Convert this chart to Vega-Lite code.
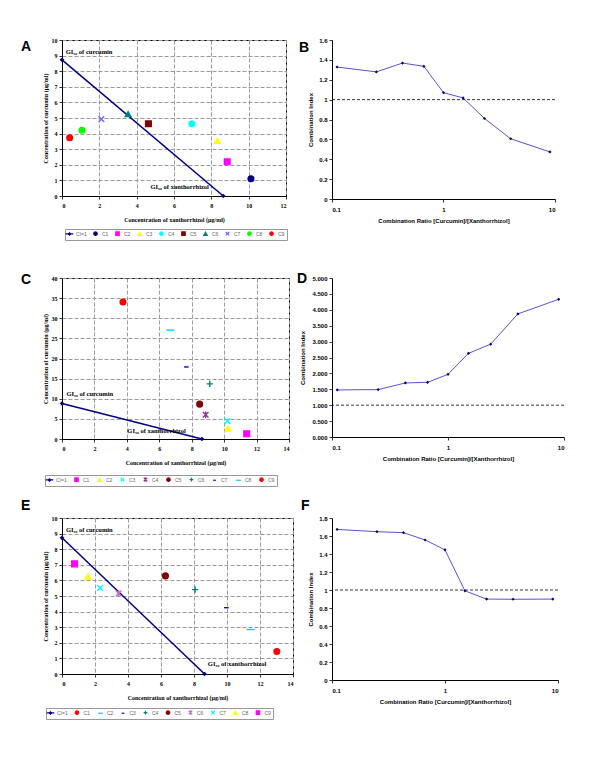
{
  "$schema": "https://vega.github.io/schema/vega-lite/v6.json",
  "padding": {"left": 20, "top": 36, "right": 10, "bottom": 10},
  "background": "white",
  "config": {
    "axis": {"labelFontSize": 6, "titleFontSize": 6, "labelFontWeight": "bold", "titleFontWeight": "bold", "labelColor": "black", "titleColor": "black", "domainColor": "black", "tickColor": "black", "tickSize": 3, "grid": false, "domainWidth": 1, "tickWidth": 0.8, "labelOverlap": false, "tickCount": 40},
    "legend": {"direction": "horizontal", "columns": 10, "orient": "none", "symbolSize": 12, "symbolStrokeWidth": 1.2, "labelFontSize": 5, "labelFont": "Liberation Sans", "labelColor": "#666", "strokeColor": "#999", "fillColor": "white", "padding": 2, "columnPadding": 5, "labelOffset": 4, "title": null},
    "title": {"font": "Liberation Sans", "fontWeight": "bold", "fontSize": 14, "anchor": "start", "frame": "group", "baseline": "top", "offset": 0, "color": "black"}
  },
  "resolve": {
    "scale": {"fill": "independent", "stroke": "independent", "shape": "independent"},
    "legend": {"fill": "independent", "stroke": "independent", "shape": "independent"}
  },
  "datasets": {
    "lineA": [{"x": 0, "y": 8.73}, {"x": 8.64, "y": 0}],
    "ptsA": [
      {"s": "C1", "x": 10.12, "y": 1.11}, {"s": "C2", "x": 8.85, "y": 2.2}, {"s": "C3", "x": 8.32, "y": 3.53},
      {"s": "C4", "x": 6.96, "y": 4.63}, {"s": "C5", "x": 4.63, "y": 4.63}, {"s": "C6", "x": 3.54, "y": 5.25},
      {"s": "C7", "x": 2.11, "y": 4.93}, {"s": "C8", "x": 1.07, "y": 4.22}, {"s": "C9", "x": 0.41, "y": 3.73}
    ],
    "annA": [{"t": "GI₅₀ of curcumin", "x": 0.2, "y": 9.2}, {"t": "GI₅₀ of xanthorrhizol", "x": 4.74, "y": 0.6}],
    "lineC": [{"x": 0, "y": 8.82}, {"x": 8.63, "y": 0}],
    "ptsC": [
      {"s": "C1", "x": 11.39, "y": 1.32}, {"s": "C2", "x": 10.24, "y": 2.56}, {"s": "C3", "x": 10.2, "y": 4.45},
      {"s": "C4", "x": 8.86, "y": 6.02}, {"s": "C5", "x": 8.49, "y": 8.66}, {"s": "C6", "x": 9.11, "y": 13.69},
      {"s": "C7", "x": 7.67, "y": 17.9}, {"s": "C8", "x": 6.68, "y": 27.05}, {"s": "C9", "x": 3.76, "y": 34.06}
    ],
    "annC": [{"t": "GI₅₀ of curcumin", "x": 0.27, "y": 11.1}, {"t": "GI₅₀ of xanthorrhizol", "x": 4.03, "y": 2.06}],
    "lineE": [{"x": 0, "y": 8.73}, {"x": 8.64, "y": 0}],
    "ptsE": [
      {"s": "C1", "x": 13.02, "y": 1.44}, {"s": "C2", "x": 11.43, "y": 2.85}, {"s": "C3", "x": 9.96, "y": 4.25},
      {"s": "C4", "x": 8.07, "y": 5.41}, {"s": "C5", "x": 6.27, "y": 6.29}, {"s": "C6", "x": 3.43, "y": 5.17},
      {"s": "C7", "x": 2.31, "y": 5.52}, {"s": "C8", "x": 1.57, "y": 6.24}, {"s": "C9", "x": 0.76, "y": 7.06}
    ],
    "annE": [{"t": "GI₅₀ of curcumin", "x": 0.24, "y": 9.2}, {"t": "GI₅₀ of xanthorrhizol", "x": 8.84, "y": 0.64}],
    "ciB": [
      {"r": 0.111, "ci": 1.328}, {"r": 0.25, "ci": 1.279}, {"r": 0.429, "ci": 1.368}, {"r": 0.667, "ci": 1.335},
      {"r": 1, "ci": 1.07}, {"r": 1.5, "ci": 1.017}, {"r": 2.333, "ci": 0.81}, {"r": 4, "ci": 0.606}, {"r": 9, "ci": 0.474}
    ],
    "ciD": [
      {"r": 0.111, "ci": 1.48}, {"r": 0.25, "ci": 1.49}, {"r": 0.429, "ci": 1.7}, {"r": 0.667, "ci": 1.72},
      {"r": 1, "ci": 1.97}, {"r": 1.5, "ci": 2.63}, {"r": 2.333, "ci": 2.92}, {"r": 4, "ci": 3.87}, {"r": 9, "ci": 4.33}
    ],
    "ciF": [
      {"r": 0.111, "ci": 1.673}, {"r": 0.25, "ci": 1.648}, {"r": 0.429, "ci": 1.637}, {"r": 0.667, "ci": 1.556},
      {"r": 1, "ci": 1.446}, {"r": 1.5, "ci": 0.991}, {"r": 2.333, "ci": 0.899}, {"r": 4, "ci": 0.897}, {"r": 9, "ci": 0.899}
    ],
    "ref": [{"v": 1}]
  },
  "bounds": "flush",
  "columns": 2,
  "spacing": {"row": 79, "column": 39},
  "concat": [
    {
      "width": 224, "height": 156,
      "view": {"stroke": "black", "strokeWidth": 1},
      "title": {"text": "A", "dx": -41, "dy": 21},
      "layer": [
        {
          "data": {"name": "lineA"},
          "mark": {"type": "line", "color": "#000080", "strokeWidth": 1.5, "point": {"filled": true, "shape": "diamond", "size": 22, "color": "#000080"}},
          "encoding": {
            "x": {"field": "x", "type": "quantitative", "scale": {"domain": [0, 12], "nice": false}, "axis": {"title": "Concentration of xanthorrhizol (µg/ml)", "values": [0, 2, 4, 6, 8, 10, 12], "format": "~g", "grid": true, "gridDash": [4, 2], "gridColor": "#999", "labelFont": "Liberation Serif", "titleFont": "Liberation Serif", "labelPadding": 3, "titlePadding": 8}},
            "y": {"field": "y", "type": "quantitative", "scale": {"domain": [0, 10], "nice": false}, "axis": {"title": "Concentration of curcumin (µg/ml)", "values": [0, 1, 2, 3, 4, 5, 6, 7, 8, 9, 10], "format": "~g", "grid": true, "gridDash": [4, 2], "gridColor": "#999", "labelFont": "Liberation Serif", "titleFont": "Liberation Serif", "labelPadding": 2, "titlePadding": 3}}
          }
        },
        {
          "data": {"name": "ptsA"},
          "mark": {"type": "point", "filled": true, "size": 32, "strokeWidth": 1.4, "opacity": 1},
          "encoding": {
            "x": {"field": "x", "type": "quantitative"},
            "y": {"field": "y", "type": "quantitative"},
            "fill": {"field": "s", "type": "nominal", "scale": {"domain": ["CI=1", "C1", "C2", "C3", "C4", "C5", "C6", "C7", "C8", "C9"], "range": ["#000080", "#000080", "#FF00FF", "#FFFF00", "#00FFFF", "#800000", "#008080", "#6666FF", "#00FF00", "#FF0000"]}, "legend": {"legendX": 3, "legendY": 189, "columnPadding": 4}},
            "stroke": {"field": "s", "type": "nominal", "scale": {"domain": ["CI=1", "C1", "C2", "C3", "C4", "C5", "C6", "C7", "C8", "C9"], "range": ["#000080", "#000080", "#FF00FF", "#FFFF00", "#00FFFF", "#800000", "#008080", "#6666FF", "#00FF00", "#FF0000"]}, "legend": {"legendX": 3, "legendY": 189, "columnPadding": 4}},
            "shape": {"field": "s", "type": "nominal", "scale": {"domain": ["CI=1", "C1", "C2", "C3", "C4", "C5", "C6", "C7", "C8", "C9"], "range": ["M-2.2,0L2.2,0M-0.7,0L0,-0.7L0.7,0L0,0.7Z", "circle", "square", "triangle-up", "circle", "square", "triangle-up", "M-1,-1L1,1M-1,1L1,-1", "circle", "circle"]}, "legend": {"legendX": 3, "legendY": 189, "columnPadding": 4}}
          }
        },
        {
          "data": {"name": "annA"},
          "mark": {"type": "text", "align": "left", "baseline": "middle", "font": "Liberation Serif", "fontWeight": "bold", "fontSize": 6.5, "color": "black"},
          "encoding": {"x": {"field": "x", "type": "quantitative"}, "y": {"field": "y", "type": "quantitative"}, "text": {"field": "t"}}
        }
      ]
    },
    {
      "width": 223, "height": 159,
      "view": {"stroke": null},
      "title": {"text": "B", "dx": -33, "dy": 22},
      "layer": [
        {
          "data": {"name": "ciB"},
          "mark": {"type": "line", "color": "#5555CC", "strokeWidth": 1, "point": {"filled": true, "shape": "diamond", "size": 10, "color": "#000080"}},
          "encoding": {
            "x": {"field": "r", "type": "quantitative", "scale": {"type": "log", "domain": [0.1, 10], "nice": false}, "axis": {"title": "Combination Ratio [Curcumin]/[Xanthorrhizol]", "values": [0.1, 1, 10], "format": "~g", "labelFont": "Liberation Sans", "titleFont": "Liberation Sans", "labelPadding": 4, "titlePadding": 5}},
            "y": {"field": "ci", "type": "quantitative", "scale": {"domain": [0, 1.6], "nice": false}, "axis": {"title": "Combination Index", "values": [0, 0.2, 0.4, 0.6, 0.8, 1, 1.2, 1.4, 1.6], "format": "~g", "labelFont": "Liberation Sans", "titleFont": "Liberation Sans", "labelPadding": 2, "titlePadding": 5}}
          }
        },
        {
          "data": {"name": "ref"},
          "mark": {"type": "rule", "strokeDash": [3, 2], "color": "black", "strokeWidth": 0.8},
          "encoding": {"y": {"field": "v", "type": "quantitative"}}
        }
      ]
    },
    {
      "width": 227, "height": 161,
      "view": {"stroke": "black", "strokeWidth": 1},
      "title": {"text": "C", "dx": -41, "dy": 16},
      "layer": [
        {
          "data": {"name": "lineC"},
          "mark": {"type": "line", "color": "#000080", "strokeWidth": 1.5, "point": {"filled": true, "shape": "diamond", "size": 22, "color": "#000080"}},
          "encoding": {
            "x": {"field": "x", "type": "quantitative", "scale": {"domain": [0, 14], "nice": false}, "axis": {"title": "Concentration of xanthorrhizol (µg/ml)", "values": [0, 2, 4, 6, 8, 10, 12, 14], "format": "~g", "grid": true, "gridDash": [4, 2], "gridColor": "#999", "labelFont": "Liberation Serif", "titleFont": "Liberation Serif", "labelPadding": 3, "titlePadding": 8}},
            "y": {"field": "y", "type": "quantitative", "scale": {"domain": [0, 40], "nice": false}, "axis": {"title": "Concentration of curcumin (µg/ml)", "values": [0, 5, 10, 15, 20, 25, 30, 35, 40], "format": "~g", "grid": true, "gridDash": [4, 2], "gridColor": "#999", "labelFont": "Liberation Serif", "titleFont": "Liberation Serif", "labelPadding": 2, "titlePadding": 3}}
          }
        },
        {
          "data": {"name": "ptsC"},
          "mark": {"type": "point", "filled": true, "size": 32, "strokeWidth": 1.4, "opacity": 1},
          "encoding": {
            "x": {"field": "x", "type": "quantitative"},
            "y": {"field": "y", "type": "quantitative"},
            "fill": {"field": "s", "type": "nominal", "scale": {"domain": ["CI=1", "C1", "C2", "C3", "C4", "C5", "C6", "C7", "C8", "C9"], "range": ["#000080", "#FF00FF", "#FFFF00", "#00FFFF", "#993399", "#800000", "#008080", "#0000FF", "#00CCFF", "#FF0000"]}, "legend": {"legendX": -17, "legendY": 197}},
            "stroke": {"field": "s", "type": "nominal", "scale": {"domain": ["CI=1", "C1", "C2", "C3", "C4", "C5", "C6", "C7", "C8", "C9"], "range": ["#000080", "#FF00FF", "#FFFF00", "#00FFFF", "#993399", "#800000", "#008080", "#0000FF", "#00CCFF", "#FF0000"]}, "legend": {"legendX": -17, "legendY": 197}},
            "shape": {"field": "s", "type": "nominal", "scale": {"domain": ["CI=1", "C1", "C2", "C3", "C4", "C5", "C6", "C7", "C8", "C9"], "range": ["M-2.2,0L2.2,0M-0.7,0L0,-0.7L0.7,0L0,0.7Z", "square", "triangle-up", "M-1,-1L1,1M-1,1L1,-1", "M-1,-1L1,1M-1,1L1,-1M0,-1.2L0,1.2", "circle", "M-1.1,0L1.1,0M0,-1.1L0,1.1", "M-0.8,0L0.8,0", "M-1.4,0L1.4,0", "circle"]}, "legend": {"legendX": -17, "legendY": 197}}
          }
        },
        {
          "data": {"name": "annC"},
          "mark": {"type": "text", "align": "left", "baseline": "middle", "font": "Liberation Serif", "fontWeight": "bold", "fontSize": 6.5, "color": "black"},
          "encoding": {"x": {"field": "x", "type": "quantitative"}, "y": {"field": "y", "type": "quantitative"}, "text": {"field": "t"}}
        }
      ]
    },
    {
      "width": 232, "height": 159,
      "view": {"stroke": null},
      "title": {"text": "D", "dx": -35, "dy": 15},
      "layer": [
        {
          "data": {"name": "ciD"},
          "mark": {"type": "line", "color": "#5555CC", "strokeWidth": 1, "point": {"filled": true, "shape": "diamond", "size": 10, "color": "#000080"}},
          "encoding": {
            "x": {"field": "r", "type": "quantitative", "scale": {"type": "log", "domain": [0.1, 10], "nice": false}, "axis": {"title": "Combination Ratio [Curcumin]/[Xanthorrhizol]", "values": [0.1, 1, 10], "format": "~g", "labelFont": "Liberation Sans", "titleFont": "Liberation Sans", "labelPadding": 4, "titlePadding": 5}},
            "y": {"field": "ci", "type": "quantitative", "scale": {"domain": [0, 5], "nice": false}, "axis": {"title": "Combination Index", "values": [0, 0.5, 1, 1.5, 2, 2.5, 3, 3.5, 4, 4.5, 5], "format": ".3f", "labelFont": "Liberation Sans", "titleFont": "Liberation Sans", "labelPadding": 2, "titlePadding": 6}}
          }
        },
        {
          "data": {"name": "ref"},
          "mark": {"type": "rule", "strokeDash": [3, 2], "color": "black", "strokeWidth": 0.8},
          "encoding": {"y": {"field": "v", "type": "quantitative"}}
        }
      ]
    },
    {
      "width": 231, "height": 156,
      "view": {"stroke": "black", "strokeWidth": 1},
      "title": {"text": "E", "dx": -41, "dy": 2},
      "layer": [
        {
          "data": {"name": "lineE"},
          "mark": {"type": "line", "color": "#000080", "strokeWidth": 1.5, "point": {"filled": true, "shape": "diamond", "size": 22, "color": "#000080"}},
          "encoding": {
            "x": {"field": "x", "type": "quantitative", "scale": {"domain": [0, 14], "nice": false}, "axis": {"title": "Concentration of xanthorrhizol (µg/ml)", "values": [0, 2, 4, 6, 8, 10, 12, 14], "format": "~g", "grid": true, "gridDash": [4, 2], "gridColor": "#999", "labelFont": "Liberation Serif", "titleFont": "Liberation Serif", "labelPadding": 3, "titlePadding": 8}},
            "y": {"field": "y", "type": "quantitative", "scale": {"domain": [0, 10], "nice": false}, "axis": {"title": "Concentration of curcumin (µg/ml)", "values": [0, 1, 2, 3, 4, 5, 6, 7, 8, 9, 10], "format": "~g", "grid": true, "gridDash": [4, 2], "gridColor": "#999", "labelFont": "Liberation Serif", "titleFont": "Liberation Serif", "labelPadding": 2, "titlePadding": 3}}
          }
        },
        {
          "data": {"name": "ptsE"},
          "mark": {"type": "point", "filled": true, "size": 32, "strokeWidth": 1.4, "opacity": 1},
          "encoding": {
            "x": {"field": "x", "type": "quantitative"},
            "y": {"field": "y", "type": "quantitative"},
            "fill": {"field": "s", "type": "nominal", "scale": {"domain": ["CI=1", "C1", "C2", "C3", "C4", "C5", "C6", "C7", "C8", "C9"], "range": ["#000080", "#FF0000", "#00CCFF", "#0000FF", "#008080", "#800000", "#CC66CC", "#00FFFF", "#FFFF00", "#FF00FF"]}, "legend": {"legendX": -16, "legendY": 190, "columnPadding": 4.5}},
            "stroke": {"field": "s", "type": "nominal", "scale": {"domain": ["CI=1", "C1", "C2", "C3", "C4", "C5", "C6", "C7", "C8", "C9"], "range": ["#000080", "#FF0000", "#00CCFF", "#0000FF", "#008080", "#800000", "#CC66CC", "#00FFFF", "#FFFF00", "#FF00FF"]}, "legend": {"legendX": -16, "legendY": 190, "columnPadding": 4.5}},
            "shape": {"field": "s", "type": "nominal", "scale": {"domain": ["CI=1", "C1", "C2", "C3", "C4", "C5", "C6", "C7", "C8", "C9"], "range": ["M-2.2,0L2.2,0M-0.7,0L0,-0.7L0.7,0L0,0.7Z", "circle", "M-1.4,0L1.4,0", "M-0.8,0L0.8,0", "M-1.1,0L1.1,0M0,-1.1L0,1.1", "circle", "M-1,-1L1,1M-1,1L1,-1M0,-1.2L0,1.2", "M-1,-1L1,1M-1,1L1,-1", "triangle-up", "square"]}, "legend": {"legendX": -16, "legendY": 190, "columnPadding": 4.5}}
          }
        },
        {
          "data": {"name": "annE"},
          "mark": {"type": "text", "align": "left", "baseline": "middle", "font": "Liberation Serif", "fontWeight": "bold", "fontSize": 6.5, "color": "black"},
          "encoding": {"x": {"field": "x", "type": "quantitative"}, "y": {"field": "y", "type": "quantitative"}, "text": {"field": "t"}}
        }
      ]
    },
    {
      "width": 226, "height": 162,
      "view": {"stroke": null},
      "title": {"text": "F", "dx": -31, "dy": 2},
      "layer": [
        {
          "data": {"name": "ciF"},
          "mark": {"type": "line", "color": "#5555CC", "strokeWidth": 1, "point": {"filled": true, "shape": "diamond", "size": 10, "color": "#000080"}},
          "encoding": {
            "x": {"field": "r", "type": "quantitative", "scale": {"type": "log", "domain": [0.1, 10], "nice": false}, "axis": {"title": "Combination Ratio [Curcumin]/[Xanthorrhizol]", "values": [0.1, 1, 10], "format": "~g", "labelFont": "Liberation Sans", "titleFont": "Liberation Sans", "labelPadding": 4, "titlePadding": 5}},
            "y": {"field": "ci", "type": "quantitative", "scale": {"domain": [0, 1.8], "nice": false}, "axis": {"title": "Combination Index", "values": [0, 0.2, 0.4, 0.6, 0.8, 1, 1.2, 1.4, 1.6, 1.8], "format": "~g", "labelFont": "Liberation Sans", "titleFont": "Liberation Sans", "labelPadding": 2, "titlePadding": 5}}
          }
        },
        {
          "data": {"name": "ref"},
          "mark": {"type": "rule", "strokeDash": [3, 2], "color": "black", "strokeWidth": 0.8},
          "encoding": {"y": {"field": "v", "type": "quantitative"}}
        }
      ]
    }
  ]
}
